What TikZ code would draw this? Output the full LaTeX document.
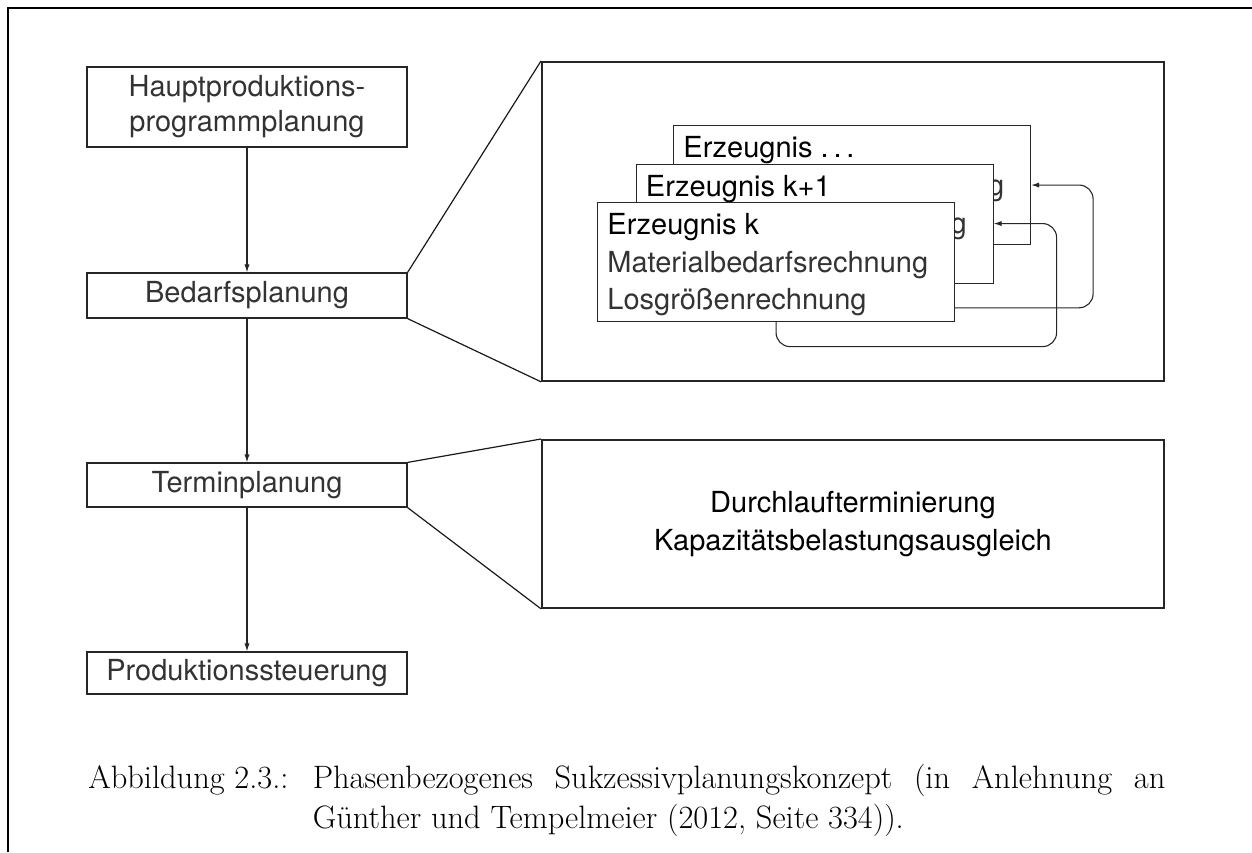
\documentclass[tikz,border=0pt]{standalone}
\usepackage{fontspec}
\setsansfont{TeX Gyre Heros}
\usetikzlibrary{arrows.meta, positioning, calc}

\tikzset{
  phase/.style={draw=black!85, line width=0.6pt, minimum width=160pt, inner sep=0pt, align=center, text=black!80, font=\sffamily\fontsize{14.5}{17.5}\selectfont},
  lupe/.style={draw=black!85, line width=0.9pt, minimum width=311pt, inner sep=0pt, anchor=north west},
  erzbox/.style={draw=black!85, fill=white, line width=0.55pt, minimum width=178.5pt, minimum height=59.5pt, inner sep=0pt, anchor=north west},
  erztext/.style={anchor=north west, inner sep=0pt, align=left, font=\sffamily\fontsize{14.5}{18.8}\selectfont},
  fluss/.style={->, line width=0.55pt, black!85},
  zoomline/.style={line width=0.6pt, black!90},
}

\begin{document}
\begin{tikzpicture}[x=0.5pt, y=-0.5pt, >={Latex[length=4pt,width=2.6pt]}]
        \useasboundingbox (0,0) rectangle (1252,852);
        % Frame
        \draw[line width=1pt] (8,852) -- (8,8) -- (1252,8);

        % Phases
        \node[phase, minimum height=40pt] (haupt) at (247,107) {Hauptproduktions-\\programmplanung};
        \node[phase, minimum height=22.5pt] (bedarf) at (247,295.5) {Bedarfsplanung};
        \node[phase, minimum height=22pt] (termin) at (247,485) {Terminplanung};
        \node[phase, minimum height=21pt] (prodst) at (247,673) {Produktionssteuerung};
        \draw[fluss] (haupt) -- (bedarf);
        \draw[fluss] (bedarf) -- (termin);
        \draw[fluss] (termin) -- (prodst);

        % Magnified views
        \node[lupe, minimum height=159.5pt] (lupeA) at (541,61) {};
        \node[lupe, minimum height=84pt, align=center, font=\sffamily\fontsize{14.5}{18.8}\selectfont] (lupeB) at (541,439) {Durchlaufterminierung\\Kapazitätsbelastungsausgleich};
        \draw[zoomline] (bedarf.north east) -- (lupeA.north west);
        \draw[zoomline] (bedarf.south east) -- (lupeA.south west);
        \draw[zoomline] (termin.north east) -- (lupeB.north west);
        \draw[zoomline] (termin.south east) -- (lupeB.south west);

        % Stacked products
        \foreach \n/\x/\y/\titel in {C/673/125/{Erzeugnis .\,.\,.}, B/635.5/163.5/{Erzeugnis k+1}, A/597/202/{Erzeugnis k}} {
            \node[erzbox] (erz\n) at (\x,\y) {};
            \node[erztext] (erz\n-t) at ($(erz\n.north west)+(10,11)$) {\titel\\{\color{black!80}Materialbedarfsrechnung}\\{\color{black!80}Losgrößenrechnung}};
        }
        % Feedback
        \draw[fluss, rounded corners=7pt] ($(erzA.south east)+(0,-14.3)$) -| ($(erzC.east)+(62,0)$) -- (erzC.east);
        \draw[fluss, rounded corners=7pt] (erzA.south) -- ++(0,24.5) -| ($(erzB.east)+(63,0)$) -- (erzB.east);

        % Caption
        \node[anchor=north west, inner sep=0pt, text width=538.5pt, align=justify, font=\rmfamily\fontsize{16.2}{20}\selectfont] (caption) at (88,764)
            {\frenchspacing\setbox0\hbox{Abbildung 2.3.:\hskip 0.75em}\noindent\hangindent=\wd0 \hangafter=1 \box0 Phasenbezogenes Sukzessivplanungskonzept (in Anlehnung an\linebreak Günther und Tempelmeier (2012, Seite 334)).\par};
\end{tikzpicture}
\end{document}
